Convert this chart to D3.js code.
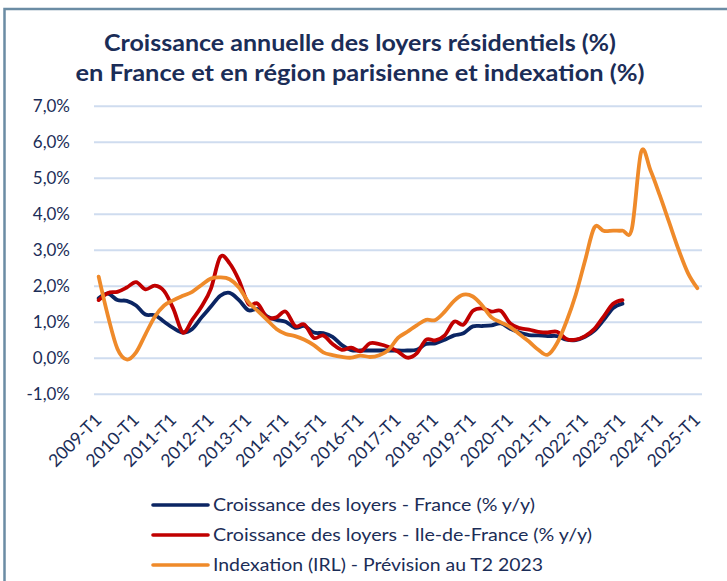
<!DOCTYPE html>
<html>
<head>
  <meta charset="UTF-8">
  <title>Croissance des loyers</title>
  <script src="https://d3js.org/d3.v7.min.js"></script>
  <style>
    body { margin: 0; background: #fff; }
    text { font-family: Lato, "Open Sans", sans-serif; }
  </style>
</head>
<body>
  <svg width="727" height="581"></svg>

  <script>
    // quarterly series, 2009-T1 .. 2025-T1 (65 quarters)
    const years = d3.range(2009, 2026);
    const tickLabels = ["2009-T1", "2010-T1", "2011-T1", "2012-T1", "2013-T1", "2014-T1",
      "2015-T1", "2016-T1", "2017-T1", "2018-T1", "2019-T1", "2020-T1", "2021-T1",
      "2022-T1", "2023-T1", "2024-T1", "2025-T1"];

    const france = [1.65, 1.78, 1.6, 1.58, 1.45, 1.2, 1.18, 1.0,
      0.82, 0.7, 0.8, 1.12, 1.42, 1.72, 1.8, 1.6,
      1.32, 1.35, 1.15, 1.05, 1.0, 0.83, 0.88, 0.7,
      0.68, 0.58, 0.35, 0.21, 0.2, 0.2, 0.2, 0.2,
      0.2, 0.2, 0.22, 0.38, 0.4, 0.5, 0.62, 0.68,
      0.87, 0.88, 0.9, 0.95, 0.8, 0.7, 0.63, 0.62,
      0.6, 0.6, 0.5, 0.49, 0.58, 0.75, 1.05, 1.38,
      1.5];

    const ileDeFrance = [1.6, 1.8, 1.83, 1.95, 2.1, 1.9, 2.0, 1.85,
      1.35, 0.7, 1.05, 1.42, 1.92, 2.8, 2.62, 2.15,
      1.5, 1.5, 1.12, 1.12, 1.28, 0.88, 0.92, 0.55,
      0.62, 0.38, 0.22, 0.28, 0.18, 0.4, 0.38, 0.3,
      0.17, 0.0, 0.12, 0.5, 0.48, 0.62, 1.0, 0.92,
      1.3, 1.37, 1.28, 1.3, 0.95, 0.82, 0.78, 0.72,
      0.7, 0.72, 0.52, 0.5, 0.6, 0.8, 1.15, 1.5,
      1.6];

    const irl = [2.25, 1.15, 0.25, -0.05, 0.15, 0.65, 1.14, 1.45,
      1.6, 1.72, 1.83, 2.02, 2.2, 2.23, 2.18, 1.95,
      1.55, 1.3, 1.05, 0.8, 0.66, 0.6, 0.5, 0.35,
      0.15, 0.07, 0.02, 0.0, 0.06, 0.02, 0.07, 0.22,
      0.55, 0.72, 0.9, 1.05, 1.05, 1.28, 1.58, 1.75,
      1.7, 1.45, 1.12, 0.98, 0.85, 0.65, 0.45, 0.22,
      0.08, 0.4, 1.0, 1.75, 2.7, 3.62, 3.52, 3.53,
      3.53, 3.58, 5.72, 5.2, 4.5, 3.75, 3.0, 2.35,
      1.93];

    const yTicks = [-1, 0, 1, 2, 3, 4, 5, 6, 7];

    const seriesNames = [
      "Croissance des loyers - France (% y/y)",
      "Croissance des loyers - Ile-de-France (% y/y)",
      "Indexation (IRL) - Prévision au T2 2023"
    ];
    const colors = ["#0b2563", "#c00000", "#ef8a2a"];

    const quarters = [];
    years.forEach(y => [1, 2, 3, 4].forEach(q => quarters.push(y + "-T" + q)));
    quarters.splice(65);

    const series = [france, ileDeFrance, irl].map((vals, k) => ({
      name: seriesNames[k],
      color: colors[k],
      values: vals.map((v, i) => ({ q: quarters[i], v: v }))
    }));

    const svg = d3.select("svg");
    const left = 94, right = 702;
    const navy = "#1b2d57";

    // chart frame
    svg.append("rect")
      .attr("x", 4.5).attr("y", 9)
      .attr("width", 760).attr("height", 620)
      .attr("fill", "#fff")
      .attr("stroke", "#6b8ca4")
      .attr("stroke-width", 2.5);

    const x = d3.scalePoint().domain(quarters).range([left, right]).padding(0.5);
    const y = d3.scaleLinear().domain([-1, 7]).range([393.7, 105.7]);

    // gridlines
    svg.append("g")
      .attr("transform", `translate(${left},0)`)
      .call(d3.axisLeft(y).tickValues(yTicks).tickSize(-(right - left)).tickFormat(""))
      .call(g => g.select(".domain").remove())
      .call(g => g.selectAll("line").attr("stroke", "#cfdcef").attr("stroke-width", 2));

    // y axis labels
    svg.append("g")
      .attr("transform", `translate(${left - 21},0)`)
      .call(d3.axisLeft(y).tickValues(yTicks).tickSize(0)
        .tickFormat(d => d.toFixed(1).replace(".", ",") + "%"))
      .call(g => g.select(".domain").remove())
      .call(g => g.selectAll("text")
        .attr("fill", navy)
        .attr("font-size", 17)
        .style("font-family", "Lato, sans-serif"));

    // x axis labels
    svg.append("g")
      .selectAll("text")
      .data(tickLabels)
      .join("text")
      .attr("transform", d => `translate(${x(d) + 4},${421}) rotate(-45)`)
      .attr("text-anchor", "end")
      .attr("fill", navy)
      .attr("font-size", 17.5)
      .text(d => d);

    // lines
    const line = d3.line()
      .x(d => x(d.q))
      .y(d => y(d.v))
      .curve(d3.curveCatmullRom.alpha(0));

    svg.append("g")
      .selectAll("path")
      .data(series)
      .join("path")
      .attr("fill", "none")
      .attr("stroke", d => d.color)
      .attr("stroke-width", 3.8)
      .attr("stroke-linejoin", "round")
      .attr("stroke-linecap", "round")
      .attr("d", d => line(d.values));

    // title
    const title = svg.append("g")
      .attr("font-weight", "bold")
      .attr("font-size", 23)
      .attr("fill", navy)
      .attr("text-anchor", "middle");
    title.append("text").attr("x", 360).attr("y", 51)
      .attr("textLength", 512).attr("lengthAdjust", "spacingAndGlyphs")
      .text("Croissance annuelle des loyers résidentiels (%)");
    title.append("text").attr("x", 360).attr("y", 81)
      .attr("textLength", 569).attr("lengthAdjust", "spacingAndGlyphs")
      .text("en France et en région parisienne et indexation (%)");

    // legend
    const legendWidths = [322, 379, 330];
    const legend = svg.append("g")
      .selectAll("g")
      .data(series)
      .join("g")
      .attr("transform", (d, i) => `translate(153,${505 + i * 30})`);
    legend.append("line")
      .attr("x1", 0).attr("x2", 55)
      .attr("stroke", d => d.color)
      .attr("stroke-width", 3.6)
      .attr("stroke-linecap", "round");
    legend.append("text")
      .attr("x", 60)
      .attr("dy", "0.35em")
      .attr("fill", navy)
      .attr("font-size", 17)
      .attr("textLength", (d, i) => legendWidths[i])
      .attr("lengthAdjust", "spacingAndGlyphs")
      .text(d => d.name);
  </script>
</body>
</html>
